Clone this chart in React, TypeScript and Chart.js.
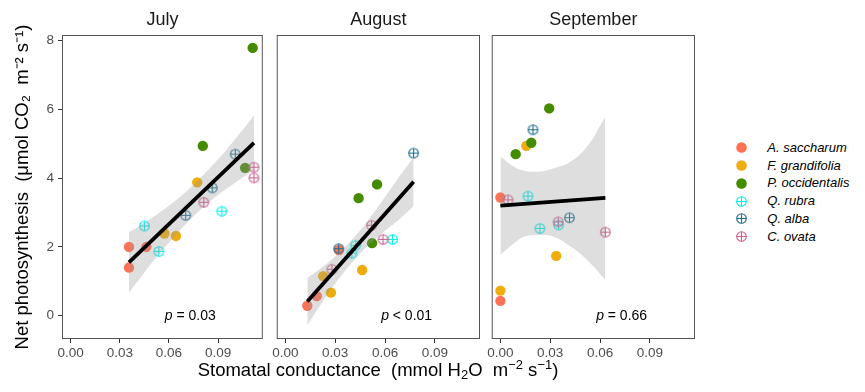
import React, { useEffect, useRef } from 'react';
import { Chart, registerables } from 'chart.js';

Chart.register(...registerables);

const FONT = '"Liberation Sans", Arial, Helvetica, sans-serif';

const months = ['July', 'August', 'September'];
const species = ['A. saccharum', 'F. grandifolia', 'P. occidentalis', 'Q. rubra', 'Q. alba', 'C. ovata'];
const speciesColors = ['#FF7256', '#EEAD0E', '#458B00', '#00EEEE', '#1B6E8E', '#CD6090'];
const speciesHollow = [false, false, false, true, true, true];
const pLabels = ['= 0.03', '< 0.01', '= 0.66'];

const xTickValues = [0, 0.03, 0.06, 0.09];
const yTickValues = [0, 2, 4, 6, 8];
const xRange = [-0.00522, 0.11718];
const yRange = [-0.678, 8.166];

// July
const julySpecies = [0, 0, 0, 1, 1, 1, 2, 2, 2, 3, 3, 3, 4, 4, 4, 5, 5, 5];
const julyGs = [0.0356, 0.0356, 0.0462, 0.0572, 0.0642, 0.0772, 0.0806, 0.1064, 0.111, 0.045, 0.0538, 0.0922, 0.0702, 0.0864, 0.1004, 0.0812, 0.1118, 0.1118];
const julyPn = [2.0, 1.4, 2.0, 2.39, 2.32, 3.88, 4.94, 4.3, 7.79, 2.61, 1.87, 3.04, 2.92, 3.72, 4.7, 3.3, 4.32, 4.01];
const julyFitGs = [0.0356, 0.1118];
const julyFitPn = [1.55, 5.03];
const julyBandGs = [0.0356, 0.045, 0.055, 0.065, 0.075, 0.085, 0.095, 0.1118];
const julyBandHi = [2.43, 2.7, 3.03, 3.39, 3.81, 4.3, 4.83, 5.82];
const julyBandLo = [0.67, 1.26, 1.85, 2.39, 2.89, 3.32, 3.69, 4.24];

// August
const augustSpecies = [0, 0, 0, 1, 1, 1, 2, 2, 2, 3, 3, 3, 4, 4, 5, 5, 5];
const augustGs = [0.0132, 0.0189, 0.0322, 0.0228, 0.0274, 0.0462, 0.0441, 0.0552, 0.0522, 0.0423, 0.04, 0.0645, 0.0321, 0.0772, 0.028, 0.0519, 0.0588];
const augustPn = [0.29, 0.57, 1.91, 1.15, 0.67, 1.33, 3.42, 3.82, 2.11, 2.05, 1.82, 2.22, 1.95, 4.73, 1.35, 2.63, 2.22];
const augustFitGs = [0.0132, 0.0772];
const augustFitPn = [0.41, 3.9];
const augustBandGs = [0.0132, 0.022, 0.03, 0.0416, 0.05, 0.06, 0.0685, 0.0772];
const augustBandHi = [1.1, 1.4, 1.73, 2.29, 2.79, 3.45, 4.04, 4.61];
const augustBandLo = [-0.28, 0.38, 0.93, 1.63, 2.05, 2.47, 2.8, 3.19];

// September
const septemberSpecies = [0, 0, 1, 1, 1, 2, 2, 2, 3, 3, 3, 4, 4, 5, 5, 5];
const septemberGs = [0.0, 0.0, 0.0, 0.0156, 0.0336, 0.0092, 0.0186, 0.0294, 0.0166, 0.0238, 0.035, 0.0196, 0.0416, 0.0046, 0.0348, 0.0632];
const septemberPn = [3.44, 0.43, 0.73, 4.94, 1.74, 4.7, 5.03, 6.03, 3.48, 2.54, 2.64, 5.41, 2.85, 3.37, 2.73, 2.43];
const septemberFitGs = [0.0, 0.0632];
const septemberFitPn = [3.2, 3.43];
const septemberBandGs = [0.0, 0.0082, 0.0142, 0.0232, 0.0322, 0.0422, 0.0522, 0.0632];
const septemberBandHi = [4.63, 4.33, 4.22, 4.19, 4.29, 4.48, 4.92, 5.79];
const septemberBandLo = [1.77, 2.11, 2.3, 2.35, 2.3, 2.01, 1.62, 1.04];

const monthData = [
  { sp: julySpecies, gs: julyGs, pn: julyPn, fitGs: julyFitGs, fitPn: julyFitPn, bandGs: julyBandGs, bandHi: julyBandHi, bandLo: julyBandLo },
  { sp: augustSpecies, gs: augustGs, pn: augustPn, fitGs: augustFitGs, fitPn: augustFitPn, bandGs: augustBandGs, bandHi: augustBandHi, bandLo: augustBandLo },
  { sp: septemberSpecies, gs: septemberGs, pn: septemberPn, fitGs: septemberFitGs, fitPn: septemberFitPn, bandGs: septemberBandGs, bandHi: septemberBandHi, bandLo: septemberBandLo },
];

function makeCross(color: string): HTMLCanvasElement {
  const c = document.createElement('canvas');
  c.width = 13;
  c.height = 13;
  const g = c.getContext('2d')!;
  g.strokeStyle = color;
  g.lineWidth = 1.1;
  g.beginPath();
  g.arc(6.5, 6.5, 4.8, 0, Math.PI * 2);
  g.stroke();
  g.beginPath();
  g.moveTo(6.5, 1.7);
  g.lineTo(6.5, 11.3);
  g.moveTo(1.7, 6.5);
  g.lineTo(11.3, 6.5);
  g.stroke();
  return c;
}

const panelPlugin = {
  id: 'panelDeco',
  afterDatasetsDraw(chart: any, _args: any, opts: any) {
    const { ctx, chartArea: a } = chart;
    ctx.save();
    ctx.strokeStyle = '#555555';
    ctx.lineWidth = 1;
    ctx.strokeRect(a.left + 0.5, a.top + 0.5, a.right - a.left - 1, a.bottom - a.top - 1);
    // p-value label
    const xs = chart.scales.x;
    const ys = chart.scales.y;
    const cx = xs.getPixelForValue(0.073);
    const cy = ys.getPixelForValue(0);
    ctx.fillStyle = '#000000';
    ctx.textBaseline = 'middle';
    ctx.textAlign = 'left';
    ctx.font = `italic 14px ${FONT}`;
    const w1 = ctx.measureText('p').width;
    ctx.font = `14px ${FONT}`;
    const rest = ' ' + opts.pLabel;
    const w2 = ctx.measureText(rest).width;
    const x0 = cx - (w1 + w2) / 2;
    ctx.font = `italic 14px ${FONT}`;
    ctx.fillText('p', x0, cy);
    ctx.font = `14px ${FONT}`;
    ctx.fillText(rest, x0 + w1, cy);
    // strip title
    ctx.font = `18px ${FONT}`;
    ctx.fillStyle = '#1A1A1A';
    ctx.textAlign = 'center';
    ctx.fillText(opts.title, (a.left + a.right) / 2, 20);
    ctx.restore();
  },
};

function buildConfig(m: number, crosses: HTMLCanvasElement[]) {
  const d = monthData[m];
  const datasets: any[] = [];
  species.forEach((name, s) => {
    const pts: any[] = [];
    d.sp.forEach((k, i) => {
      if (k === s) pts.push({ x: d.gs[i], y: d.pn[i] });
    });
    datasets.push({
      type: 'scatter',
      label: name,
      data: pts,
      pointStyle: speciesHollow[s] ? crosses[s] : 'circle',
      pointRadius: 5.2,
      backgroundColor: speciesColors[s],
      borderColor: speciesColors[s],
      borderWidth: 0,
      order: 10 - s,
    });
  });
  datasets.push({
    type: 'line',
    label: 'ci-high',
    data: d.bandGs.map((x, i) => ({ x, y: d.bandHi[i] })),
    fill: '+1',
    backgroundColor: 'rgba(153,153,153,0.32)',
    borderColor: 'transparent',
    borderWidth: 0,
    pointRadius: 0,
    tension: 0.4,
    order: 2,
  });
  datasets.push({
    type: 'line',
    label: 'ci-low',
    data: d.bandGs.map((x, i) => ({ x, y: d.bandLo[i] })),
    fill: false,
    borderColor: 'transparent',
    borderWidth: 0,
    pointRadius: 0,
    tension: 0.4,
    order: 2,
  });
  datasets.push({
    type: 'line',
    label: 'fit',
    data: d.fitGs.map((x, i) => ({ x, y: d.fitPn[i] })),
    fill: false,
    borderColor: '#000000',
    borderWidth: 3.8,
    pointRadius: 0,
    order: 1,
  });

  const tickFont = { family: FONT, size: 13.5 };
  const pad = m === 0 ? { left: 0, right: 2, top: 35, bottom: 0 } : { left: 6, right: 6, top: 35, bottom: 0 };
  const showY = m === 0;

  return {
    type: 'scatter',
    data: { datasets },
    plugins: [panelPlugin],
    options: {
      animation: false,
      responsive: false,
      devicePixelRatio: 1,
      events: [],
      layout: { padding: pad },
      plugins: {
        legend: { display: false },
        tooltip: { enabled: false },
        title: { display: false },
        panelDeco: { title: months[m], pLabel: pLabels[m] },
      },
      scales: {
        x: {
          type: 'linear',
          position: 'bottom',
          min: xRange[0],
          max: xRange[1],
          afterFit: (s: any) => {
            s.height = 53;
          },
          afterBuildTicks: (s: any) => {
            s.ticks = xTickValues.map((v) => ({ value: v }));
          },
          ticks: {
            autoSkip: false,
            maxRotation: 0,
            padding: 2,
            color: '#4D4D4D',
            font: tickFont,
            callback: (v: any) => Number(v).toFixed(2),
          },
          grid: {
            drawOnChartArea: false,
            drawTicks: true,
            tickLength: 4,
            tickColor: '#333333',
            tickWidth: 1,
          },
          border: { display: false },
        },
        y: {
          type: 'linear',
          display: showY,
          min: yRange[0],
          max: yRange[1],
          afterFit: (s: any) => {
            s.width = showY ? 62 : 0;
          },
          afterBuildTicks: (s: any) => {
            s.ticks = yTickValues.map((v) => ({ value: v }));
          },
          ticks: {
            autoSkip: false,
            padding: 4,
            color: '#4D4D4D',
            font: tickFont,
            callback: (v: any) => String(v),
          },
          grid: {
            drawOnChartArea: false,
            drawTicks: true,
            tickLength: 4,
            tickColor: '#333333',
            tickWidth: 1,
          },
          border: { display: false },
          title: {
            display: true,
            text: 'Net photosynthesis  (μmol CO₂  m⁻² s⁻¹)',
            color: '#000000',
            font: { family: FONT, size: 18.5 },
            padding: { top: 12, bottom: 0 },
          },
        },
      },
    },
  };
}

function Panel({ m, left, width }: { m: number; left: number; width: number }) {
  const ref = useRef<HTMLCanvasElement>(null);
  useEffect(() => {
    const crosses = speciesColors.map((c) => makeCross(c));
    const chart = new Chart(ref.current as HTMLCanvasElement, buildConfig(m, crosses) as any);
    return () => chart.destroy();
  }, [m]);
  return (
    <canvas
      ref={ref}
      width={width}
      height={392}
      style={{ position: 'absolute', left, top: 0, width, height: 392 }}
    />
  );
}

function LegendMarker({ s }: { s: number }) {
  const c = speciesColors[s];
  return (
    <svg width={13} height={13} style={{ position: 'absolute', left: -6.5, top: -6.5 }}>
      {speciesHollow[s] ? (
        <g stroke={c} strokeWidth={1.1} fill="none">
          <circle cx={6.5} cy={6.5} r={4.8} />
          <line x1={6.5} y1={1.7} x2={6.5} y2={11.3} />
          <line x1={1.7} y1={6.5} x2={11.3} y2={6.5} />
        </g>
      ) : (
        <circle cx={6.5} cy={6.5} r={5.3} fill={c} />
      )}
    </svg>
  );
}

export default function App() {
  const supStyle: React.CSSProperties = { fontSize: '0.7em', verticalAlign: '0.55em', lineHeight: 0 };
  const subStyle: React.CSSProperties = { fontSize: '0.7em', verticalAlign: '-0.25em', lineHeight: 0 };
  return (
    <div
      style={{
        position: 'fixed',
        left: 0,
        top: 0,
        width: 865,
        height: 392,
        background: '#ffffff',
        fontFamily: FONT,
        overflow: 'hidden',
      }}
    >
      <Panel m={0} left={0} width={268} />
      <Panel m={1} left={270} width={216} />
      <Panel m={2} left={485} width={216} />
      <div
        style={{
          position: 'absolute',
          left: 178,
          width: 400,
          top: 358,
          height: 24,
          lineHeight: '24px',
          fontSize: 18.5,
          textAlign: 'center',
          color: '#000',
          whiteSpace: 'nowrap',
        }}
      >
        Stomatal conductance{'\u00a0\u00a0'}(mmol H<sub style={subStyle}>2</sub>O{'\u00a0\u00a0'}m
        <sup style={supStyle}>−2</sup> s<sup style={supStyle}>−1</sup>)
      </div>
      {species.map((name, s) => (
        <div key={name} style={{ position: 'absolute', left: 741.7, top: 147.7 + s * 17.8, width: 0, height: 0 }}>
          <LegendMarker s={s} />
          <div
            style={{
              position: 'absolute',
              left: 25.6,
              top: -9,
              height: 18,
              lineHeight: '18px',
              fontSize: 13,
              fontStyle: 'italic',
              color: '#000',
              whiteSpace: 'nowrap',
            }}
          >
            {name}
          </div>
        </div>
      ))}
    </div>
  );
}
